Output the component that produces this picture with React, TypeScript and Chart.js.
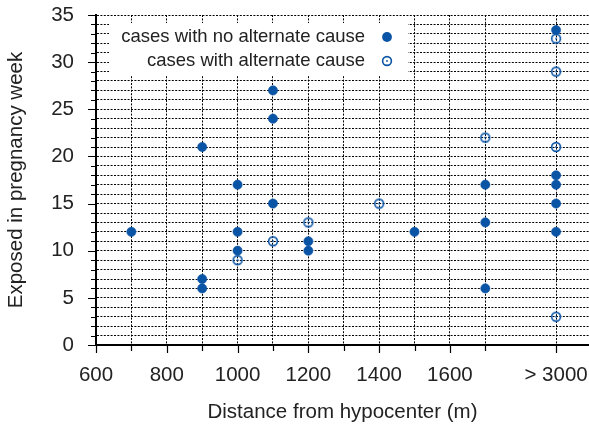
import { useEffect, useRef } from 'react';
import { Chart, registerables } from 'chart.js';

Chart.register(...registerables);

// ---- data ----
const seriesNames = ['cases with no alternate cause', 'cases with alternate cause'];
// x = distance from hypocenter (m); 1900 stands for the "> 3000" column
const noAltX = [700, 900, 900, 900, 1000, 1000, 1000, 1100, 1100, 1100, 1200, 1200, 1500, 1700, 1700, 1700, 1900, 1900, 1900, 1900, 1900];
const noAltY = [12, 21, 7, 6, 17, 12, 10, 27, 24, 15, 11, 10, 12, 17, 13, 6, 33.4, 18, 17, 15, 12];
const altX = [1000, 1100, 1200, 1400, 1700, 1900, 1900, 1900, 1900];
const altY = [9, 11, 13, 15, 22, 32.5, 29, 21, 3];

const xTickValues = [600, 700, 800, 900, 1000, 1100, 1200, 1300, 1400, 1500, 1600, 1700, 1900];
const xLabelValues = [600, 800, 1000, 1200, 1400, 1600, 1900];
const xLabelTexts = ['600', '800', '1000', '1200', '1400', '1600', '> 3000'];
const yMajorStep = 5;

const COLOR = '#0a54a6';
const TEXT = '#222';
const FONT = '"Liberation Sans", Arial, Helvetica, sans-serif';

function makeOpenMarker(): HTMLCanvasElement {
  const c = document.createElement('canvas');
  c.width = 14;
  c.height = 14;
  const g = c.getContext('2d')!;
  g.strokeStyle = COLOR;
  g.lineWidth = 1.6;
  g.beginPath();
  g.arc(7, 7, 4.4, 0, Math.PI * 2);
  g.stroke();
  g.fillStyle = COLOR;
  g.beginPath();
  g.arc(7, 7, 0.9, 0, Math.PI * 2);
  g.fill();
  return c;
}

export default function App() {
  const ref = useRef<HTMLCanvasElement | null>(null);

  useEffect(() => {
    document.body.style.margin = '0';
    const canvas = ref.current;
    if (!canvas) return;
    const openMarker = makeOpenMarker();

    const tickPlugin = {
      id: 'axisTicks',
      afterDraw(chart: any) {
        const { ctx, chartArea, scales } = chart;
        const xs = scales.x;
        const ys = scales.y;
        ctx.save();
        ctx.strokeStyle = '#000';
        ctx.lineWidth = 1.2;
        ctx.beginPath();
        for (let v = 0; v <= 35; v++) {
          const py = Math.round(ys.getPixelForValue(v)) + 0.5;
          const len = v % yMajorStep === 0 ? 8 : 5;
          ctx.moveTo(chartArea.left - len, py);
          ctx.lineTo(chartArea.left, py);
        }
        for (const v of xTickValues) {
          const px = Math.round(xs.getPixelForValue(v)) + 0.5;
          const len = xLabelValues.includes(v) ? 8 : 6;
          ctx.moveTo(px, chartArea.bottom);
          ctx.lineTo(px, chartArea.bottom + len);
        }
        ctx.stroke();
        ctx.restore();
      },
    };

    const legendPlugin = {
      id: 'boxLegend',
      afterDraw(chart: any) {
        const { ctx } = chart;
        ctx.save();
        ctx.fillStyle = '#fff';
        ctx.fillRect(109, 23, 299, 52);
        ctx.font = `18.5px ${FONT}`;
        ctx.textAlign = 'right';
        ctx.textBaseline = 'middle';
        const rows = [37, 61];
        chart.data.datasets.forEach((ds: any, i: number) => {
          ctx.fillStyle = TEXT;
          ctx.fillText(ds.label, 365, rows[i]);
          if (i === 0) {
            ctx.fillStyle = COLOR;
            ctx.beginPath();
            ctx.arc(387, rows[i], 4.9, 0, Math.PI * 2);
            ctx.fill();
          } else {
            ctx.drawImage(openMarker, 387 - 7, rows[i] - 7);
          }
        });
        ctx.restore();
      },
    };

    const chart = new Chart(canvas, {
      type: 'scatter',
      data: {
        datasets: [
          {
            label: seriesNames[0],
            data: noAltX.map((x, i) => ({ x, y: noAltY[i] })),
            pointStyle: 'circle',
            pointRadius: 4.6,
            pointBackgroundColor: COLOR,
            pointBorderColor: COLOR,
            pointBorderWidth: 0.6,
          },
          {
            label: seriesNames[1],
            data: altX.map((x, i) => ({ x, y: altY[i] })),
            pointStyle: openMarker,
            pointRadius: 5,
            pointBackgroundColor: '#fff',
            pointBorderColor: COLOR,
          },
        ],
      },
      options: {
        responsive: false,
        animation: false,
        layout: { autoPadding: false, padding: { top: 15, right: 0, left: 0, bottom: 0 } },
        plugins: {
          legend: { display: false },
          tooltip: { enabled: false },
        },
        scales: {
          x: {
            type: 'linear',
            min: 600,
            max: 1993,
            afterBuildTicks: (scale: any) => {
              scale.ticks = xTickValues.map((value) => ({ value }));
            },
            afterFit: (scale: any) => {
              scale.height = 80;
              scale.paddingLeft = 0;
              scale.paddingRight = 0;
              scale.paddingTop = 0;
              scale.paddingBottom = 0;
            },
            ticks: {
              autoSkip: false,
              maxRotation: 0,
              padding: 18,
              color: TEXT,
              font: { family: FONT, size: 20.5 },
              callback: (value: any) => {
                const idx = xLabelValues.indexOf(Number(value));
                return idx >= 0 ? xLabelTexts[idx] : '';
              },
            },
            grid: {
              color: '#000',
              lineWidth: 1,
              drawTicks: false,
            },
            border: { display: true, color: '#000', width: 2, dash: [2, 1.4] },
            title: {
              display: true,
              text: 'Distance from hypocenter (m)',
              color: TEXT,
              font: { family: FONT, size: 20.5 },
              padding: { top: 0, bottom: 0 },
            },
          },
          y: {
            type: 'linear',
            min: 0,
            max: 35,
            afterFit: (scale: any) => {
              scale.width = 96;
              scale.paddingLeft = 0;
              scale.paddingRight = 0;
              scale.paddingTop = 0;
              scale.paddingBottom = 0;
            },
            ticks: {
              stepSize: 1,
              autoSkip: false,
              padding: 22,
              color: TEXT,
              font: { family: FONT, size: 20.5 },
              callback: (value: any) => (Number(value) % yMajorStep === 0 ? String(value) : ''),
            },
            grid: {
              color: '#000',
              lineWidth: 1,
              drawTicks: false,
            },
            border: { display: true, color: '#000', width: 2, dash: [2, 1.4] },
            title: {
              display: true,
              text: 'Exposed in pregnancy week',
              color: TEXT,
              font: { family: FONT, size: 20.5 },
              padding: { top: 4, bottom: 0 },
            },
          },
        },
      },
      plugins: [tickPlugin, legendPlugin],
    } as any);

    return () => chart.destroy();
  }, []);

  return (
    <div style={{ width: 589, height: 425 }}>
      <canvas ref={ref} width={589} height={425} style={{ display: 'block' }} />
    </div>
  );
}
